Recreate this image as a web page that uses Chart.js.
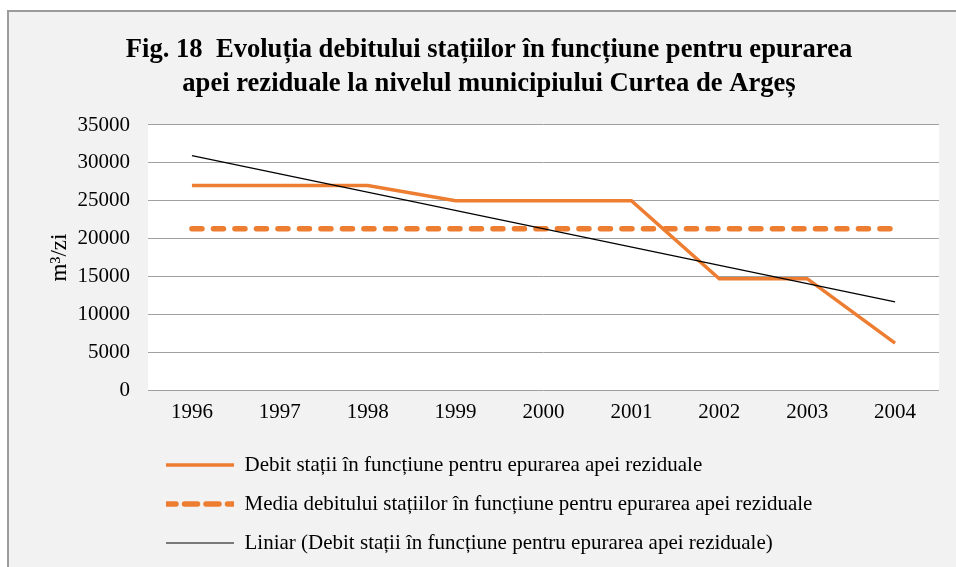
<!DOCTYPE html>
<html lang="ro">
<head>
<meta charset="utf-8">
<title>Fig. 18 Evoluția debitului stațiilor de epurare</title>
<script src="https://cdn.jsdelivr.net/npm/chart.js@4/dist/chart.umd.min.js"></script>
<style>
  html, body { margin: 0; padding: 0; background: #fff; overflow: hidden; }
  #frame {
    position: absolute; left: 7px; top: 10px;
    width: 990px; height: 600px;
    border-left: 2px solid #9c9c9c; border-top: 2px solid #9c9c9c;
    background: #f2f2f2;
  }
  #grafic { display: block; }
</style>
</head>
<body>
<div id="frame">
  <canvas id="grafic" width="960" height="570"></canvas>
</div>
<script>
// Ani și valori (m³/zi)
const ani = ['1996', '1997', '1998', '1999', '2000', '2001', '2002', '2003', '2004'];
const debit = [27000, 27000, 27000, 25000, 25000, 25000, 14700, 14700, 6200];
const media = [21300, 21300, 21300, 21300, 21300, 21300, 21300, 21300, 21300];
// linia de tendință: doar capetele, unite cu spanGaps
const tendinta = [30950, null, null, null, null, null, null, null, 11650];

const titlu = [
  'Fig. 18  Evoluția debitului stațiilor în funcțiune pentru epurarea',
  'apei reziduale la nivelul municipiului Curtea de Argeș'
];
const etichete = [
  'Debit stații în funcțiune pentru epurarea apei reziduale',
  'Media debitului stațiilor în funcțiune pentru epurarea apei reziduale',
  'Liniar (Debit stații în funcțiune pentru epurarea apei reziduale)'
];

const PORTOCALIU = '#ed7d31';
const serif = 'Liberation Serif';

// fundal alb doar pentru zona graficului
const fundalZona = {
  id: 'fundalZona',
  beforeDraw(chart) {
    const { ctx, chartArea: a } = chart;
    ctx.save();
    ctx.fillStyle = '#ffffff';
    ctx.fillRect(a.left, a.top, a.right - a.left, a.bottom - a.top);
    ctx.restore();
  }
};

new Chart(document.getElementById('grafic'), {
  type: 'line',
  data: {
    labels: ani,
    datasets: [
      {
        label: etichete[0],
        data: debit,
        borderColor: PORTOCALIU,
        backgroundColor: PORTOCALIU,
        borderWidth: 3.5,
        pointRadius: 0,
        order: 1
      },
      {
        label: etichete[1],
        data: media,
        borderColor: PORTOCALIU,
        backgroundColor: PORTOCALIU,
        borderWidth: 5.5,
        borderDash: [10, 11.5],
        borderCapStyle: 'round',
        pointRadius: 0,
        order: 2
      },
      {
        label: etichete[2],
        data: tendinta,
        borderColor: '#000000',
        backgroundColor: '#000000',
        borderWidth: 1.2,
        pointRadius: 0,
        spanGaps: true,
        order: 0
      }
    ]
  },
  options: {
    responsive: false,
    animation: false,
    layout: { padding: { left: 30, right: 30, top: 0, bottom: 18.5 } },
    plugins: {
      title: {
        display: true,
        text: titlu,
        color: '#000',
        font: { family: serif, size: 26.6, weight: 'bold', lineHeight: 1.278 },
        padding: { top: 21, bottom: 24 }
      },
      legend: {
        position: 'bottom',
        align: 'start',
        fullSize: false,
        labels: {
          color: '#000',
          font: { family: serif, size: 21 },
          boxWidth: 68,
          boxHeight: 0,
          padding: 18,
          sort: (a, b) => a.datasetIndex - b.datasetIndex
        }
      },
      tooltip: { enabled: false }
    },
    scales: {
      x: {
        offset: true,
        grid: { display: false, drawTicks: false },
        border: { display: false },
        ticks: { color: '#000', font: { family: serif, size: 21 }, padding: 10, maxRotation: 0 },
        afterFit(axis) { axis.height = 46.5; }
      },
      y: {
        min: 0,
        max: 35000,
        border: { display: false },
        grid: { color: '#a0a0a0', lineWidth: 1, drawTicks: false },
        ticks: {
          stepSize: 5000,
          color: '#000',
          font: { family: serif, size: 21 },
          padding: 18,
          callback: v => String(v)
        },
        title: {
          display: true,
          text: 'm³/zi',
          color: '#000',
          font: { family: serif, size: 23 },
          padding: { top: 7.2, bottom: 0 }
        },
        afterFit(axis) { axis.width = 109; }
      }
    }
  },
  plugins: [fundalZona]
});
</script>
</body>
</html>
